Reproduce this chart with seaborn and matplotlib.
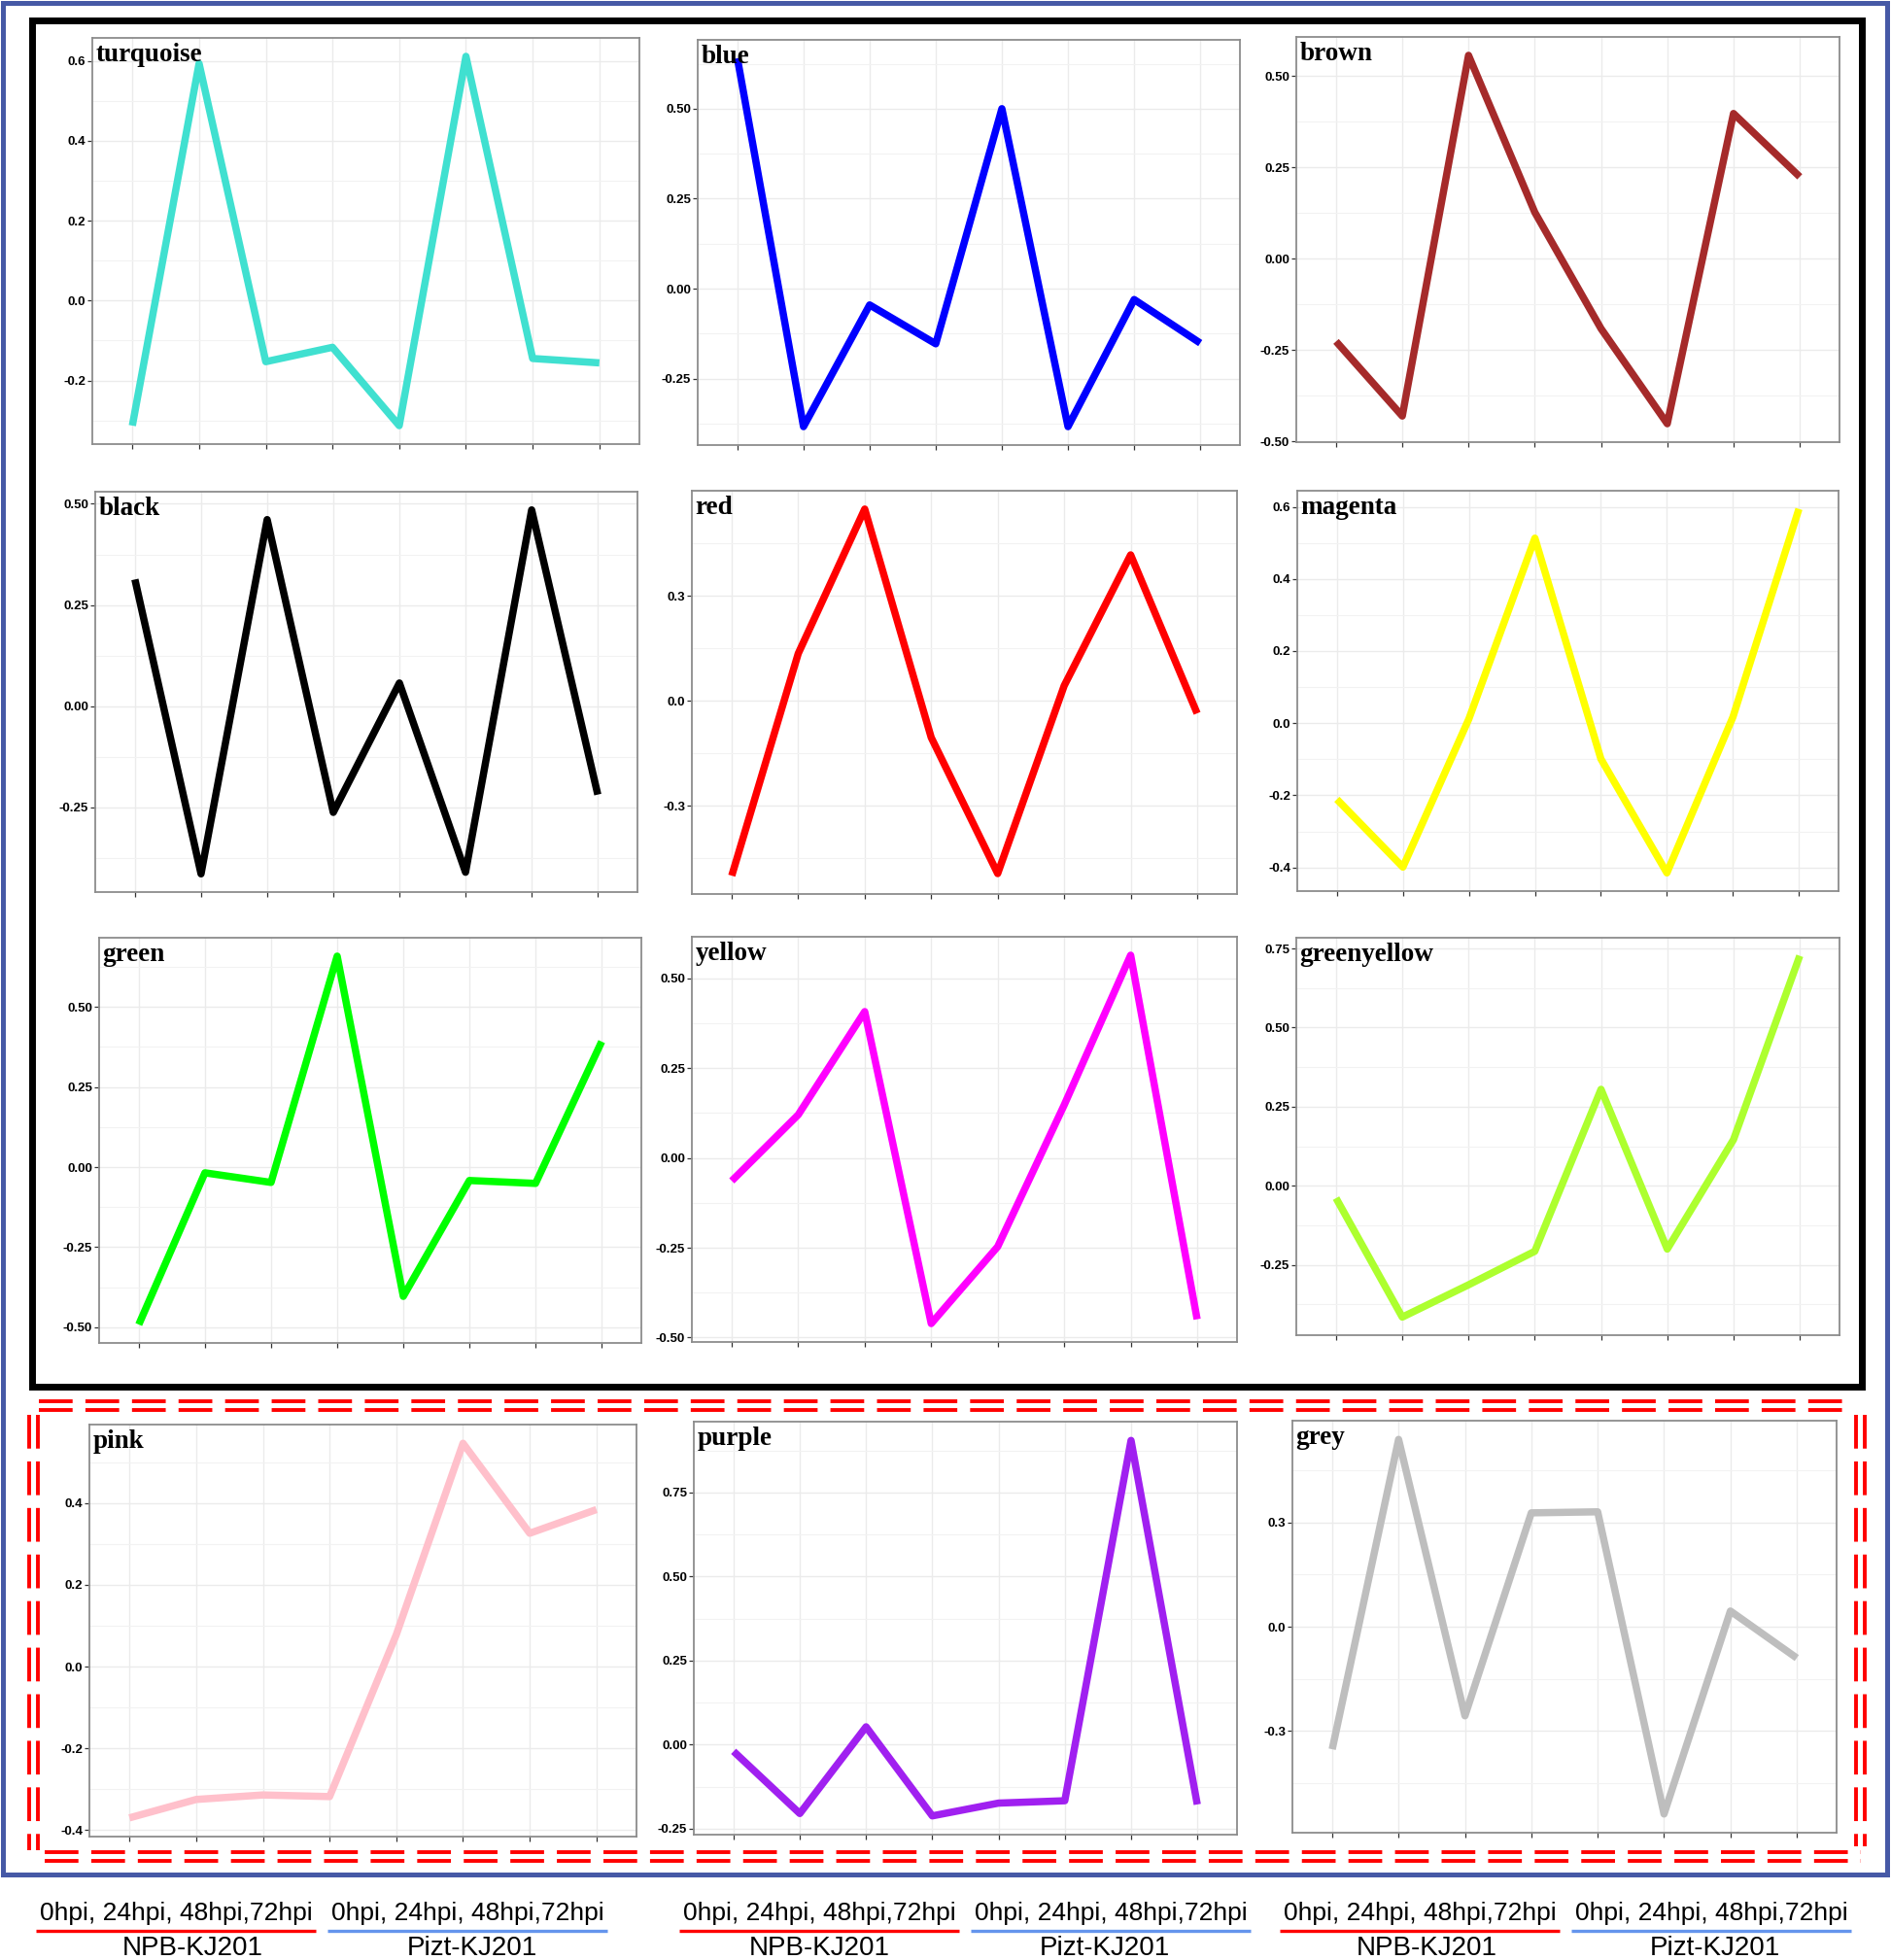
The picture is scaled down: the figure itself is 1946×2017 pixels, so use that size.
import matplotlib
matplotlib.use("Agg")
import matplotlib.pyplot as plt
import matplotlib.patches as mpatches
from matplotlib.lines import Line2D
from matplotlib.ticker import AutoMinorLocator, FixedLocator, FixedFormatter
from matplotlib import font_manager
import seaborn as sns

# module eigengene expression, 8 samples (NPB-KJ201 0/24/48/72hpi, Pizt-KJ201 0/24/48/72hpi)
timepoints = ["0hpi", "24hpi", "48hpi", "72hpi"]
genotypes = ["NPB-KJ201", "Pizt-KJ201"]
sample_idx = list(range(len(genotypes) * len(timepoints)))

modules = ["turquoise", "blue", "brown", "black", "red", "magenta",
           "green", "yellow", "greenyellow", "pink", "purple", "grey"]
# colour of the drawn line in each panel (magenta / yellow are swapped in the source)
line_colors = ["#40E0D0", "#0000FF", "#A52A2A", "#000000", "#FF0000", "#FFFF00",
               "#00FF00", "#FF00FF", "#ADFF2F", "#FFC0CB", "#A020F0", "#BEBEBE"]

turquoise = [-0.313, 0.593, -0.153, -0.117, -0.313, 0.611, -0.145, -0.156]
blue = [0.640, -0.383, -0.045, -0.153, 0.500, -0.383, -0.030, -0.151]
brown = [-0.226, -0.430, 0.556, 0.127, -0.191, -0.451, 0.397, 0.224]
black = [0.313, -0.415, 0.461, -0.263, 0.057, -0.411, 0.485, -0.219]
red = [-0.500, 0.135, 0.548, -0.105, -0.494, 0.043, 0.417, -0.036]
magenta = [-0.211, -0.399, 0.012, 0.513, -0.099, -0.415, 0.017, 0.594]
green = [-0.492, -0.018, -0.048, 0.659, -0.404, -0.042, -0.051, 0.392]
yellow = [-0.064, 0.120, 0.407, -0.461, -0.247, 0.147, 0.564, -0.449]
greenyellow = [-0.039, -0.415, -0.313, -0.207, 0.305, -0.200, 0.146, 0.727]
pink = [-0.370, -0.325, -0.314, -0.318, 0.078, 0.546, 0.326, 0.384]
purple = [-0.020, -0.205, 0.053, -0.212, -0.174, -0.167, 0.905, -0.178]
grey = [-0.352, 0.538, -0.256, 0.327, 0.330, -0.538, 0.045, -0.090]
values = [turquoise, blue, brown, black, red, magenta,
          green, yellow, greenyellow, pink, purple, grey]

y_breaks = [
    ["-0.2", "0.0", "0.2", "0.4", "0.6"],
    ["-0.25", "0.00", "0.25", "0.50"],
    ["-0.50", "-0.25", "0.00", "0.25", "0.50"],
    ["-0.25", "0.00", "0.25", "0.50"],
    ["-0.3", "0.0", "0.3"],
    ["-0.4", "-0.2", "0.0", "0.2", "0.4", "0.6"],
    ["-0.50", "-0.25", "0.00", "0.25", "0.50"],
    ["-0.50", "-0.25", "0.00", "0.25", "0.50"],
    ["-0.25", "0.00", "0.25", "0.50", "0.75"],
    ["-0.4", "-0.2", "0.0", "0.2", "0.4"],
    ["-0.25", "0.00", "0.25", "0.50", "0.75"],
    ["-0.3", "0.0", "0.3"],
]

# bottom annotation
group_text = "0hpi, 24hpi, 48hpi,72hpi"


def pick_font(names):
    for n in names:
        try:
            font_manager.findfont(n, fallback_to_default=False)
            return n
        except Exception:
            pass
    return "DejaVu Sans"


sans = pick_font(["Liberation Sans", "Arial"])
narrow = pick_font(["Liberation Sans Narrow", "Liberation Sans", "Arial"])
serif = pick_font(["Liberation Serif", "Times New Roman", "DejaVu Serif"])

sns.set_theme(style="white")
plt.rcParams["axes.unicode_minus"] = False
plt.rcParams["font.family"] = [sans, "DejaVu Sans"]

W, H = 1946, 2017
fig = plt.figure(figsize=(W / 100, H / 100), dpi=100)
fig.patch.set_facecolor("white")


def fx(x):
    return x / W


def fy(y):
    return 1 - y / H


# axes boxes in pixels: left, top, right, bottom
boxes = [
    (95, 39, 658, 457), (718, 41, 1276, 458), (1334, 38, 1893, 455),
    (98, 506, 656, 918), (712, 505, 1273, 920), (1335, 505, 1892, 917),
    (102, 965, 660, 1382), (712, 964, 1273, 1381), (1334, 965, 1893, 1374),
    (92, 1466, 655, 1890), (714, 1463, 1273, 1888), (1330, 1462, 1890, 1886),
]

for name, col, vals, labs, (l, t, r, b) in zip(modules, line_colors, values, y_breaks, boxes):
    ax = fig.add_axes([fx(l), fy(b), fx(r - l), (b - t) / H])
    sns.lineplot(x=sample_idx, y=vals, ax=ax, color=col, linewidth=5.4,
                 solid_joinstyle="round", solid_capstyle="butt")
    lo, hi = min(vals), max(vals)
    pad = (hi - lo) * 0.05
    ax.set_ylim(lo - pad, hi + pad)
    ax.set_xlim(-0.6, len(sample_idx) - 1 + 0.6)
    ax.set_xticks(sample_idx)
    ax.set_xticklabels([])
    ax.yaxis.set_major_locator(FixedLocator([float(s) for s in labs]))
    ax.yaxis.set_major_formatter(FixedFormatter(labs))
    ax.yaxis.set_minor_locator(AutoMinorLocator(2))
    ax.set_axisbelow(True)
    ax.grid(which="major", color="#ebebeb", linewidth=1.0)
    ax.grid(which="minor", axis="y", color="#f2f2f2", linewidth=0.8)
    for sp in ax.spines.values():
        sp.set_visible(True)
        sp.set_color("#8c8c8c")
        sp.set_linewidth(1.3)
    ax.tick_params(axis="both", which="major", length=3.5, width=0.9, color="#333333",
                   labelsize=9.5, pad=1.5, left=True, bottom=True)
    ax.tick_params(axis="y", which="minor", length=0)
    for lab in ax.get_yticklabels():
        lab.set_fontweight("bold")
        lab.set_family(narrow)
        lab.set_color("black")
    ax.set_xlabel("")
    ax.set_ylabel("")
    ax.text(0.006, 0.988, name, transform=ax.transAxes, ha="left", va="top",
            fontsize=19.5, fontweight="bold", family=serif, color="black")


def rect(x0, y0, x1, y1, color, lw):
    p = mpatches.Rectangle((fx(x0), fy(y1)), fx(x1 - x0), (y1 - y0) / H,
                           transform=fig.transFigure, fill=False, edgecolor=color,
                           linewidth=lw, joinstyle="miter")
    fig.add_artist(p)


def seg(x0, y0, x1, y1, color, lw, ls="solid"):
    fig.add_artist(Line2D([fx(x0), fx(x1)], [fy(y0), fy(y1)], transform=fig.transFigure,
                          color=color, linewidth=lw, linestyle=ls, solid_capstyle="butt",
                          dash_capstyle="butt"))


# frames
rect(3, 3, 1942, 1929, "#4659a6", 3.6)
rect(33, 21, 1916, 1427, "black", 5.0)

# double dashed red frame around the last row
dash_lw = 2.8
dash = (0, (25 / dash_lw, 9.5 / dash_lw))
for dy in (0, 9):
    seg(40, 1442 + dy, 1906, 1442 + dy, "#ff0000", dash_lw, dash)
    seg(46, 1906 + dy, 1915, 1906 + dy, "#ff0000", dash_lw, dash)
for dx in (0, 9):
    seg(30 + dx, 1456, 30 + dx, 1904, "#ff0000", dash_lw, dash)
    seg(1910 + dx, 1456, 1910 + dx, 1900, "#ff0000", dash_lw, dash)

# bottom annotations, one set per column
col_offsets = [0, 662, 1280]
label_shift = [[17, 5], [0, -6], [7, 4]]
for off, shifts in zip(col_offsets, label_shift):
    for gi, (g, lc) in enumerate(zip(genotypes, ["#ff0000", "#6495ED"])):
        x0 = 37 + off + gi * 300
        x1 = x0 + 288
        xc = (x0 + x1) / 2
        fig.text(fx(xc), fy(1969), group_text, ha="center", va="center",
                 fontsize=19, color="black")
        seg(x0, 1987, x1, 1987, lc, 2.4)
        fig.text(fx(xc + shifts[gi]), fy(2005), g, ha="center", va="center",
                 fontsize=20, color="black")

fig.savefig("out.png", dpi=100, facecolor="white")
